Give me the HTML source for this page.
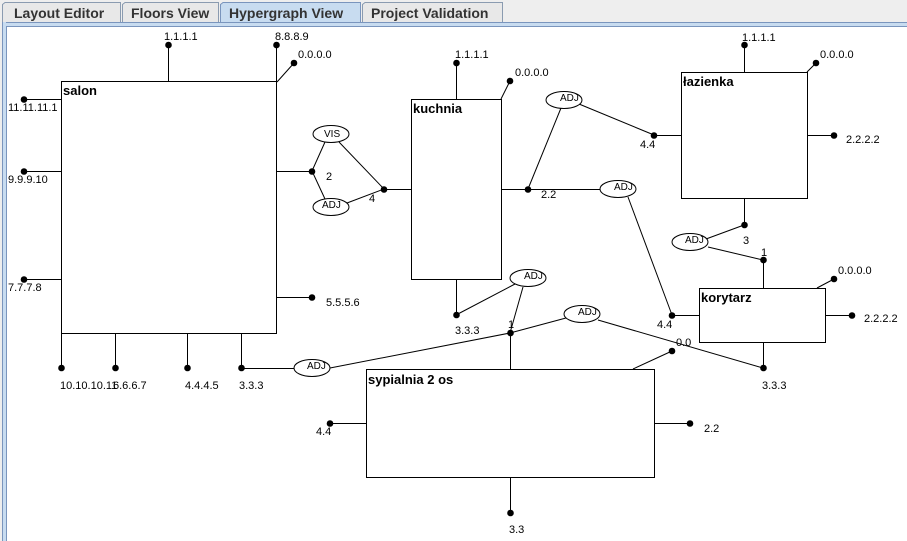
<!DOCTYPE html>
<html><head><meta charset="utf-8"><style>
html,body{margin:0;padding:0;background:#eeeeee;width:907px;height:541px;overflow:hidden}
svg{display:block}
.l{font-family:"Liberation Sans",sans-serif;font-size:11px;fill:#000}
.n{font-family:"Liberation Sans",sans-serif;font-size:13px;font-weight:bold;fill:#000}
.t{font-family:"Liberation Sans",sans-serif;font-size:14px;font-weight:bold;fill:#333}
</style></head><body>
<svg width="907" height="541" xmlns="http://www.w3.org/2000/svg">
<rect x="0" y="0" width="907" height="541" fill="#eeeeee"/>
<!-- tabs -->
<g stroke="#8a9bb0" fill="#e8e8e8">
<path d="M2.5 23 V4.5 L5 2.5 H120.5 V23"/>
<path d="M122.5 23 V4.5 L125 2.5 H218.5 V23"/>
<path d="M362.5 23 V4.5 L365 2.5 H502.5 V23"/>
</g>
<path d="M220.5 23 V4.5 L223 2.5 H360.5 V23" fill="#c8dcf0" stroke="#7a95bd"/>
<text class="t" x="14" y="18">Layout Editor</text>
<text class="t" x="131" y="18">Floors View</text>
<text class="t" x="229" y="18">Hypergraph View</text>
<text class="t" x="371" y="18">Project Validation</text>
<rect x="2" y="22" width="905" height="4" fill="#c8dcf0"/>
<line x1="2" y1="22.5" x2="907" y2="22.5" stroke="#7a95bd"/>
<rect x="2" y="22" width="4" height="519" fill="#c8dcf0"/>
<line x1="2.5" y1="22" x2="2.5" y2="541" stroke="#7a95bd"/>
<line x1="6.5" y1="26" x2="6.5" y2="541" stroke="#7a95bd"/>
<line x1="6" y1="26.5" x2="907" y2="26.5" stroke="#7a95bd"/>
<rect x="7" y="27" width="900" height="514" fill="#fff"/>

<g stroke="#000" stroke-width="1" fill="none">
<!-- rooms -->
<rect x="61.5" y="81.5" width="215" height="252" fill="#fff"/>
<rect x="411.5" y="99.5" width="90" height="180" fill="#fff"/>
<rect x="681.5" y="72.5" width="126" height="126" fill="#fff"/>
<rect x="699.5" y="288.5" width="126" height="54" fill="#fff"/>
<rect x="366.5" y="369.5" width="288" height="108" fill="#fff"/>
<!-- salon -->
<path d="M168.5 45 V81 M276.5 45 V81 M277 82 L294 63 M24 99.5 H61 M24 171.5 H61 M24 279.5 H61 M276 171.5 H312 M276 297.5 H312 M61.5 333 V368 M115.5 333 V368 M187.5 333 V368 M241.5 333 V368 M241 368.5 H294"/>
<!-- VIS/ADJ -->
<path d="M312 171 L325 142 M312 171 L325 199 M339 142 L384 189 M347 203 L384 189 M384 189.5 H411"/>
<!-- kuchnia -->
<path d="M456.5 63 V99 M501 99 L510 81 M501 189.5 H528 M528 189 L561 108 M528 189.5 H600 M579 104 L654 135 M654 135.5 H681 M628 197 L672 315 M672 315.5 H699 M456.5 279 V315 M456 315 L515 284 M510 333 L523 287"/>
<!-- sypialnia -->
<path d="M330 368 L510 333 M510 333 L566 318 M598 320 L763 368 M510.5 333 V369 M633 369 L672 351 M330 423.5 H366 M654 423.5 H690 M510.5 477 V513"/>
<!-- lazienka -->
<path d="M744.5 45 V72 M807 72 L816 63 M807 135.5 H834 M744.5 198 V225 M744 225 L706 239 M708 247 L763 260 M763.5 260 V288"/>
<!-- korytarz -->
<path d="M817 288 L834 279 M825 315.5 H852 M763.5 342 V368"/>
<!-- ellipses -->
<g fill="#fff">
<ellipse cx="331" cy="134" rx="18" ry="8.5"/>
<ellipse cx="331" cy="207" rx="18" ry="8.5"/>
<ellipse cx="312" cy="368" rx="18" ry="8.5"/>
<ellipse cx="564" cy="100" rx="18" ry="8.5"/>
<ellipse cx="618" cy="189" rx="18" ry="8.5"/>
<ellipse cx="528" cy="278" rx="18" ry="8.5"/>
<ellipse cx="582" cy="314" rx="18" ry="8.5"/>
<ellipse cx="690" cy="242" rx="18" ry="8.5"/>
</g>
</g>
<g fill="#000">
<circle cx="168.5" cy="45" r="3.3"/><circle cx="276.5" cy="45" r="3.3"/><circle cx="294" cy="63" r="3.3"/>
<circle cx="24" cy="99.5" r="3.3"/><circle cx="24" cy="171.5" r="3.3"/><circle cx="24" cy="279.5" r="3.3"/>
<circle cx="312" cy="171.5" r="3.3"/><circle cx="312" cy="297.5" r="3.3"/>
<circle cx="61.5" cy="368" r="3.3"/><circle cx="115.5" cy="368" r="3.3"/><circle cx="187.5" cy="368" r="3.3"/><circle cx="241.5" cy="368" r="3.3"/>
<circle cx="384" cy="189.5" r="3.3"/><circle cx="456.5" cy="63" r="3.3"/><circle cx="510" cy="81" r="3.3"/>
<circle cx="528" cy="189.5" r="3.3"/><circle cx="456.5" cy="315" r="3.3"/><circle cx="510.5" cy="333" r="3.3"/>
<circle cx="654" cy="135.5" r="3.3"/><circle cx="672" cy="315.5" r="3.3"/>
<circle cx="744.5" cy="45" r="3.3"/><circle cx="816" cy="63" r="3.3"/><circle cx="834" cy="135.5" r="3.3"/>
<circle cx="744.5" cy="225" r="3.3"/><circle cx="763.5" cy="260" r="3.3"/>
<circle cx="834" cy="279" r="3.3"/><circle cx="852" cy="315.5" r="3.3"/><circle cx="763.5" cy="368" r="3.3"/>
<circle cx="672" cy="351" r="3.3"/><circle cx="330" cy="423.5" r="3.3"/><circle cx="690" cy="423.5" r="3.3"/><circle cx="510.5" cy="513" r="3.3"/>
</g>
<text class="n" x="63" y="95">salon</text>
<text class="n" x="413" y="113">kuchnia</text>
<text class="n" x="683" y="86">łazienka</text>
<text class="n" x="701" y="302">korytarz</text>
<text class="n" x="368" y="384">sypialnia 2 os</text>
<g class="l">
<text x="164" y="40">1.1.1.1</text><text x="275" y="40">8.8.8.9</text><text x="298" y="58">0.0.0.0</text>
<text x="8" y="111">11.11.11.1</text><text x="8" y="183">9.9.9.10</text><text x="8" y="291">7.7.7.8</text>
<text x="326" y="180">2</text><text x="326" y="306">5.5.5.6</text>
<text x="60" y="389">10.10.10.11</text><text x="113" y="389">6.6.6.7</text><text x="185" y="389">4.4.4.5</text><text x="239" y="389">3.3.3</text>
<text x="369" y="202">4</text>
<text x="455" y="58">1.1.1.1</text><text x="515" y="76">0.0.0.0</text>
<text x="541" y="198">2.2</text><text x="455" y="334">3.3.3</text><text x="508" y="328">1</text>
<text x="640" y="148">4.4</text><text x="657" y="328">4.4</text>
<text x="742" y="41">1.1.1.1</text><text x="820" y="58">0.0.0.0</text><text x="846" y="143">2.2.2.2</text>
<text x="743" y="244">3</text><text x="761" y="256">1</text>
<text x="838" y="274">0.0.0.0</text><text x="864" y="322">2.2.2.2</text><text x="762" y="389">3.3.3</text>
<text x="676" y="346">0.0</text>
<text x="316" y="435">4.4</text><text x="704" y="432">2.2</text><text x="509" y="533">3.3</text>
</g>
<g class="l" font-size="10">
<text x="324" y="137" style="font-size:10px">VIS</text>
<text x="322" y="208" style="font-size:10px">ADJ</text>
<text x="307" y="369" style="font-size:10px">ADJ</text>
<text x="560" y="101" style="font-size:10px">ADJ</text>
<text x="614" y="190" style="font-size:10px">ADJ</text>
<text x="524" y="279" style="font-size:10px">ADJ</text>
<text x="578" y="315" style="font-size:10px">ADJ</text>
<text x="685" y="243" style="font-size:10px">ADJ</text>
</g>
</svg>
</body></html>
